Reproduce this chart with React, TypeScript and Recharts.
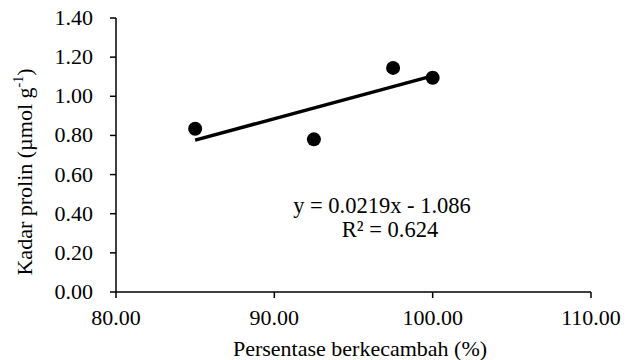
import { ScatterChart, Scatter, XAxis, YAxis } from "recharts"

const germination = [85, 92.5, 97.5, 100]
const proline = [0.834, 0.78, 1.145, 1.095]

const trendX = [85, 100]
const trendY = [0.776, 1.104]

const xTicks = [80, 90, 100, 110]
const yTicks = [0, 0.2, 0.4, 0.6, 0.8, 1.0, 1.2, 1.4]

const points = germination.map((x, i) => ({ x, y: proline[i] }))
const trend = trendX.map((x, i) => ({ x, y: trendY[i] }))

const FONT = "'Liberation Serif', 'Times New Roman', serif"
const FS = 22
const textStyle = { fontFamily: FONT, fontSize: FS, fill: "#000" }

const Dot = (props: { cx?: number; cy?: number }) => (
    <circle cx={props.cx} cy={props.cy} r={7} fill="#000" />
)

const XTick = (props: { x?: number; y?: number; payload?: { value: number } }) => (
    <text x={props.x} y={(props.y ?? 0) + 15} textAnchor="middle" style={textStyle}>
        {props.payload?.value.toFixed(2)}
    </text>
)

const YTick = (props: { x?: number; y?: number; payload?: { value: number } }) => (
    <text x={(props.x ?? 0) - 3} y={(props.y ?? 0) + 7} textAnchor="end" style={textStyle}>
        {props.payload?.value.toFixed(2)}
    </text>
)

const YTitle = () => (
    <text x={0} y={0} transform="translate(32, 172) rotate(-90)" textAnchor="middle" style={textStyle}>
        Kadar prolin (µmol g
        <tspan style={{ fontSize: 14 }} dy={-9}>-1</tspan>
        <tspan dy={9}>)</tspan>
    </text>
)

const XTitle = () => (
    <text x={360} y={356} textAnchor="middle" style={textStyle}>
        Persentase berkecambah (%)
    </text>
)

const App = () => {
    return (
        <div style={{ position: "absolute", left: 0, top: 0, background: "#fff", fontFamily: FONT }}>
            <ScatterChart width={630} height={360} margin={{ top: 18, right: 39, left: 0, bottom: 0 }}>
                <XAxis
                    type="number"
                    dataKey="x"
                    domain={[80, 110]}
                    ticks={xTicks}
                    tick={<XTick />}
                    tickSize={6}
                    tickMargin={12}
                    stroke="#000"
                    strokeWidth={1.5}
                    height={68}
                    allowDataOverflow
                    label={<XTitle />}
                />
                <YAxis
                    type="number"
                    dataKey="y"
                    domain={[0, 1.4]}
                    ticks={yTicks}
                    tick={<YTick />}
                    tickSize={6}
                    tickMargin={14}
                    stroke="#000"
                    strokeWidth={1.5}
                    width={116}
                    allowDataOverflow
                    label={<YTitle />}
                />
                <Scatter data={points} shape={<Dot />} isAnimationActive={false} />
                <Scatter
                    data={trend}
                    line={{ stroke: "#000", strokeWidth: 3.5 }}
                    shape={() => <g />}
                    isAnimationActive={false}
                />
                <text x={382} y={213} textAnchor="middle" style={{ ...textStyle, fontSize: 22.5 }}>
                    y = 0.0219x - 1.086
                </text>
                <text x={390} y={237} textAnchor="middle" style={{ ...textStyle, fontSize: 22.5 }}>
                    R² = 0.624
                </text>
            </ScatterChart>
        </div>
    )
}

export default App
